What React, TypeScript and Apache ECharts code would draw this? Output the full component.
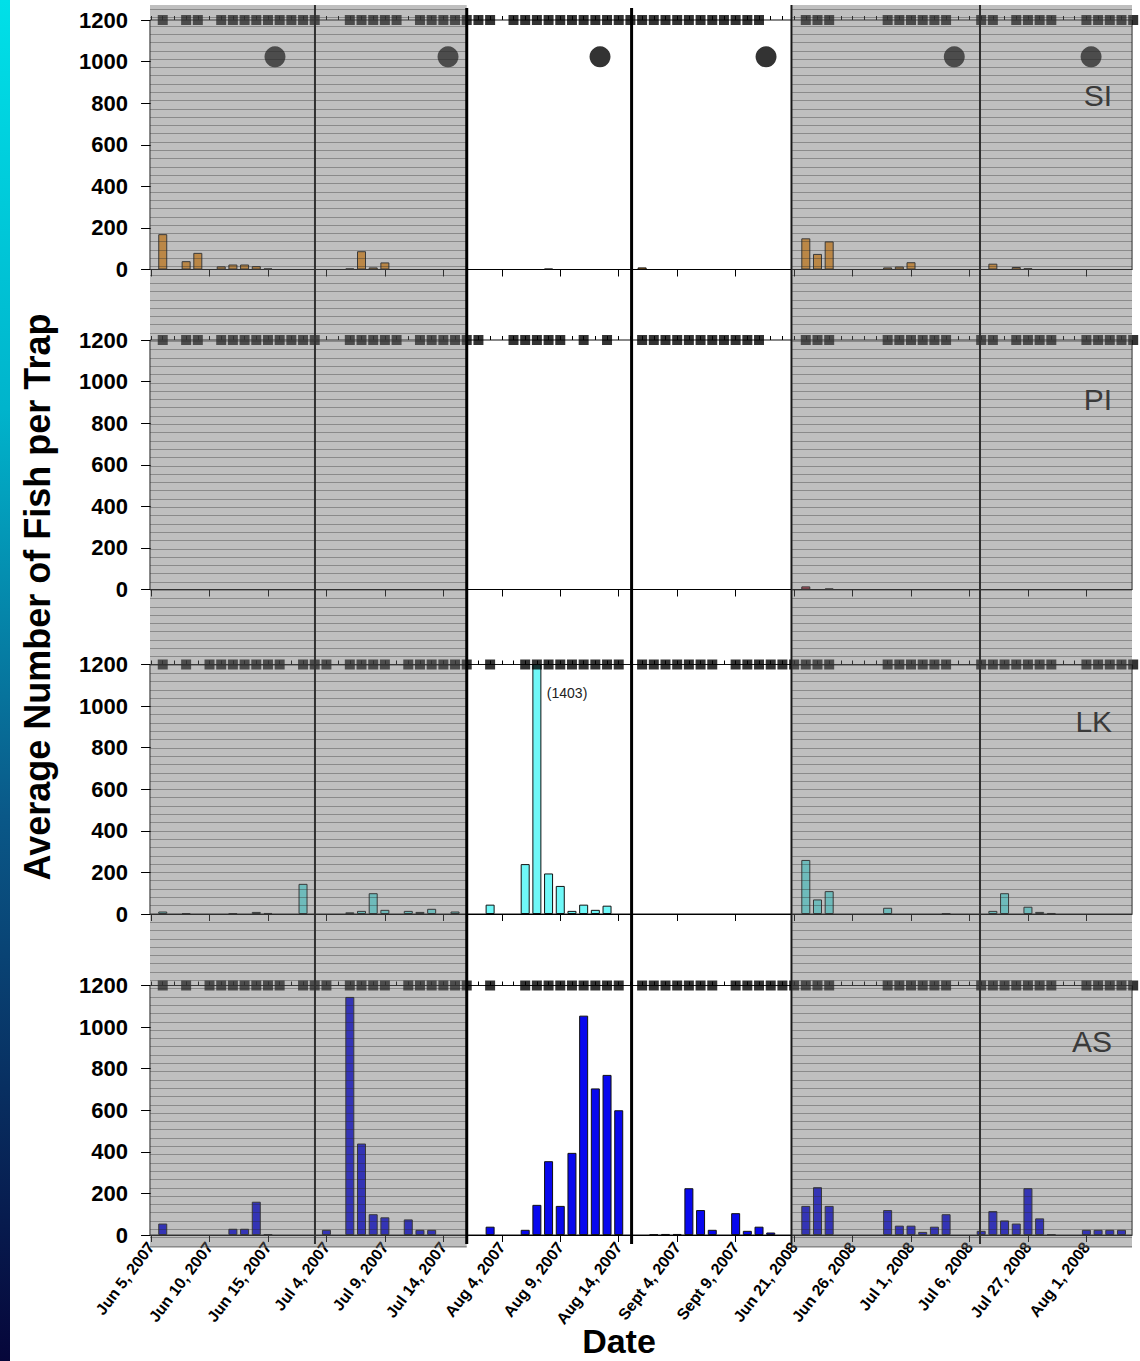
import React, { useEffect, useRef } from "react";
import * as echarts from "echarts";

const FONT = "'Liberation Sans', Arial, Helvetica, sans-serif";

// Day index on the broken date axis: 0 = Jun 5, 2007
const tickDays = [0, 5, 10, 15, 20, 25, 30, 35, 40, 45, 50, 55, 60, 65, 70, 75, 80];
const tickLabels = [
  "Jun 5, 2007", "Jun 10, 2007", "Jun 15, 2007", "Jul 4, 2007", "Jul 9, 2007", "Jul 14, 2007",
  "Aug 4, 2007", "Aug 9, 2007", "Aug 14, 2007", "Sept 4, 2007", "Sept 9, 2007",
  "Jun 21, 2008", "Jun 26, 2008", "Jul 1, 2008", "Jul 6, 2008", "Jul 27, 2008", "Aug 1, 2008",
];
const dayTicks = [
  0, 1, 2, 3, 4, 5, 6, 7, 8, 9, 10, 11, 12, 13, 14, 15, 16, 17, 18, 19, 20, 21, 22, 23, 24, 25, 26, 27,
  28, 29, 30, 31, 32, 33, 34, 35, 36, 37, 38, 39, 40, 41, 42, 43, 44, 45, 46, 47, 48, 49, 50, 51, 52, 53,
  54, 55, 56, 57, 58, 59, 60, 61, 62, 63, 64, 65, 66, 67, 68, 69, 70, 71, 72, 73, 74, 75, 76, 77, 78, 79,
  80, 81, 82, 83,
];
const axisMin = -0.09;
const axisMax = 83.9;
const shadedSegments = [[-0.09, 27.0], [54.78, 83.9]];
const lightBreaks = [14.02, 54.78, 70.9];
const heavyBreaks = [27.0, 41.1];

const panelNames = ["SI", "PI", "LK", "AS"];
const panelColors = ["#f89c28", "#e2344e", "#6ff8f8", "#0808ee"];
const panelLabelValue = [838, 916, 925, 929];

// SI
const siDays = [1, 3, 4, 6, 7, 8, 9, 10, 17, 18, 19, 20, 34, 42, 56, 57, 58, 63, 64, 65, 72, 74, 75];
const siValues = [170, 40, 80, 15, 24, 24, 16, 5, 5, 88, 10, 34, 4, 10, 150, 75, 135, 10, 14, 35, 28, 12, 6];
const siSampleDays = [
  1, 3, 4, 6, 7, 8, 9, 10, 11, 12, 13, 14, 17, 18, 19, 20, 21, 23, 24, 25, 26, 27, 28, 29,
  31, 32, 33, 34, 35, 36, 37, 38, 39, 40, 41, 42, 43, 44, 45, 46, 47, 48, 49, 50, 51, 52,
  56, 57, 58, 63, 64, 65, 66, 67, 68, 71, 72, 74, 75, 76, 77, 80, 81, 82, 83, 84,
];
const newMoonDays = [10.6, 25.4, 38.4, 52.6, 68.7, 80.4];
const newMoonLevel = 1023;

// PI
const piDays = [56, 58];
const piValues = [15, 5];
const piSampleDays = [
  1, 3, 4, 6, 7, 8, 9, 10, 11, 12, 13, 14, 17, 18, 19, 20, 21, 23, 24, 25, 26, 27, 28,
  31, 32, 33, 34, 35, 37, 39, 42, 43, 44, 45, 46, 47, 48, 49, 50, 51, 52,
  56, 57, 58, 63, 64, 65, 66, 67, 68, 71, 72, 74, 75, 76, 77, 80, 81, 82, 83, 84,
];

// LK
const lkDays = [1, 3, 7, 9, 10, 13, 17, 18, 19, 20, 22, 23, 24, 26, 29, 32, 33, 34, 35, 36, 37, 38, 39, 56, 57, 58, 63, 68, 72, 73, 75, 76, 77];
const lkValues = [12, 4, 3, 10, 5, 145, 8, 15, 100, 20, 15, 10, 25, 12, 45, 240, 1403, 195, 135, 15, 45, 20, 40, 260, 70, 110, 30, 3, 15, 100, 35, 10, 5];
const lkSampleDays = [
  1, 3, 5, 6, 7, 8, 9, 10, 11, 13, 14, 15, 17, 18, 19, 20, 22, 23, 24, 25, 26, 27, 29,
  32, 33, 34, 35, 36, 37, 38, 39, 40, 42, 43, 44, 45, 46, 47, 48, 50, 51, 52, 53, 54, 55,
  56, 57, 58, 63, 64, 65, 66, 67, 68, 71, 72, 73, 74, 75, 76, 77, 80, 81, 82, 83, 84,
];
const lkNoteDay = 33.85;
const lkNoteLevel = 1065;
const lkNote = "(1403)";

// AS
const asDays = [1, 7, 8, 9, 10, 15, 17, 18, 19, 20, 22, 23, 24, 29, 32, 33, 34, 35, 36, 37, 38, 39, 40, 43, 44, 45, 46, 47, 48, 50, 51, 52, 53, 56, 57, 58, 63, 64, 65, 66, 67, 68, 71, 72, 73, 74, 75, 76, 77, 80, 81, 82, 83];
const asValues = [55, 30, 30, 160, 3, 25, 1145, 440, 100, 85, 75, 25, 25, 40, 25, 145, 355, 140, 395, 1055, 705, 770, 600, 3, 5, 5, 225, 120, 25, 105, 20, 40, 12, 140, 230, 140, 120, 45, 45, 15, 40, 100, 20, 115, 70, 55, 225, 80, 3, 25, 25, 25, 25];
const asSampleDays = lkSampleDays;

const yTicks = { min: 0, max: 1200, interval: 200 };

const panelDays = [siDays, piDays, lkDays, asDays];
const panelValues = [siValues, piValues, lkValues, asValues];
const panelSamples = [siSampleDays, piSampleDays, lkSampleDays, asSampleDays];

export default function App() {
  const ref = useRef<HTMLDivElement>(null);
  useEffect(() => {
    document.body.style.margin = "0";
    const el = ref.current!;
    const chart = echarts.init(el, null, { renderer: "svg" });
    const gridTops = [20, 340, 664.5, 985.5];
    const gridH = 249.5;

    const grid = gridTops.map((t) => ({
      left: 150, right: 8, top: t, height: gridH, show: true,
      borderColor: "#111", borderWidth: 1, backgroundColor: "transparent",
    }));
    const xAxis: any[] = [];
    const yAxis: any[] = [];
    const series: any[] = [];
    panelNames.forEach((name, i) => {
      const isLast = i === panelNames.length - 1;
      xAxis.push({
        type: "value", gridIndex: i, min: axisMin, max: axisMax,
        axisLine: { show: true, lineStyle: { color: "#000", width: 1 } },
        axisTick: { show: true, customValues: tickDays, length: 7, lineStyle: { color: "#000" } },
        axisLabel: isLast
          ? {
              show: true, customValues: tickDays, rotate: 53, margin: 9,
              formatter: (v: number) => {
                const k = tickDays.indexOf(Math.round(v));
                return k >= 0 ? tickLabels[k] : "";
              },
              fontFamily: FONT, fontSize: 16, fontWeight: "bold", color: "#000",
            }
          : { show: false },
        splitLine: { show: false },
      });
      xAxis.push({
        type: "value", gridIndex: i, min: axisMin, max: axisMax,
        axisLine: { show: false },
        axisTick: { show: true, customValues: dayTicks, length: 4, lineStyle: { color: "#000" } },
        axisLabel: { show: false },
        splitLine: { show: false },
      });
      yAxis.push({
        type: "value", gridIndex: i, min: yTicks.min, max: yTicks.max, interval: yTicks.interval,
        axisLine: { show: false },
        axisTick: { show: true, length: 10, lineStyle: { color: "#000" } },
        axisLabel: {
          fontFamily: FONT, fontSize: 22, fontWeight: "bold", color: "#000", margin: 22,
          formatter: (v: number) => String(v),
        },
        splitLine: { show: false },
      });
      series.push({
        type: "bar", name, xAxisIndex: 2 * i, yAxisIndex: i, barWidth: 9, z: 3,
        data: panelDays[i].map((d, k) => [d, panelValues[i][k]]),
        itemStyle: { color: panelColors[i], borderColor: "#111", borderWidth: 1 },
      });
      series.push({
        type: "scatter", name: name + " sampled", xAxisIndex: 2 * i, yAxisIndex: i, z: 4,
        symbol: "rect", symbolSize: 10, clip: false,
        data: panelSamples[i].map((d) => [d, 1200]),
        itemStyle: { color: "#000" },
      });
      if (i === 0) {
        series.push({
          type: "scatter", name: "new moon", xAxisIndex: 0, yAxisIndex: 0, z: 4,
          symbol: "circle", symbolSize: 21, clip: false,
          data: newMoonDays.map((d) => [d, newMoonLevel]),
          itemStyle: { color: "#000" },
        });
      }
    });

    chart.setOption({ animation: false, grid, xAxis, yAxis, series });

    const px = (i: number, g: number, v: number) =>
      chart.convertToPixel({ xAxisIndex: 2 * i, yAxisIndex: i } as any, [g, v]) as number[];
    const topY = px(0, 0, 1200)[1] - 15;
    const botY = px(3, 0, 0)[1] + 13;
    const lineBot = px(3, 0, 0)[1] + 9;
    const graphic: any[] = [];
    graphic.push({
      type: "rect", z: 1, shape: { x: 0, y: 0, width: 10, height: 1361 },
      style: {
        fill: new echarts.graphic.LinearGradient(0, 0, 0, 1, [
          { offset: 0, color: "#00e0e8" },
          { offset: 0.3, color: "#00b4cc" },
          { offset: 0.6, color: "#0a5888" },
          { offset: 1, color: "#06063a" },
        ]),
      },
    });
    lightBreaks.forEach((g) => {
      const x = px(0, g, 0)[0];
      graphic.push({ type: "line", z: 50, shape: { x1: x, y1: topY, x2: x, y2: lineBot }, style: { stroke: "#000", lineWidth: 2 } });
    });
    shadedSegments.forEach(([a, b]) => {
      const x0 = px(0, a, 0)[0];
      const x1 = px(0, b, 0)[0];
      graphic.push({
        type: "rect", z: 100, shape: { x: x0, y: topY, width: x1 - x0, height: botY - topY },
        style: { fill: "rgba(110,110,110,0.44)" },
      });
      // hatch texture of the shaded periods
      for (let y = topY + 4; y < botY; y += 8.3) {
        graphic.push({
          type: "line", z: 101, silent: true,
          shape: { x1: x0, y1: Math.round(y) + 0.5, x2: x1, y2: Math.round(y) + 0.5 },
          style: { stroke: "rgba(40,40,40,0.35)", lineWidth: 1 },
        });
      }
    });
    heavyBreaks.forEach((g) => {
      const x = px(0, g, 0)[0];
      graphic.push({ type: "line", z: 120, shape: { x1: x, y1: topY + 3, x2: x, y2: lineBot }, style: { stroke: "#000", lineWidth: 3 } });
    });
    panelNames.forEach((name, i) => {
      const p = px(i, 82.2, panelLabelValue[i]);
      graphic.push({
        type: "text", z: 120, x: p[0], y: p[1],
        style: { text: name, font: `30px ${FONT}`, fill: "#3a3a3a", textAlign: "right", align: "right", textVerticalAlign: "middle", verticalAlign: "middle" },
      });
    });
    const n = px(2, lkNoteDay, lkNoteLevel);
    graphic.push({
      type: "text", z: 120, x: n[0], y: n[1],
      style: { text: lkNote, font: `14px ${FONT}`, fill: "#222", textAlign: "left", align: "left", textVerticalAlign: "middle", verticalAlign: "middle" },
    });
    graphic.push({
      type: "text", z: 120, x: 37, y: 597, rotation: Math.PI / 2,
      style: { text: "Average Number of Fish per Trap", font: `bold 36px ${FONT}`, fill: "#000", textAlign: "center", align: "center", textVerticalAlign: "middle", verticalAlign: "middle" },
    });
    graphic.push({
      type: "text", z: 120, x: 619, y: 1341,
      style: { text: "Date", font: `bold 34px ${FONT}`, fill: "#000", textAlign: "center", align: "center", textVerticalAlign: "middle", verticalAlign: "middle" },
    });
    chart.setOption({ graphic });

    return () => chart.dispose();
  }, []);
  return <div ref={ref} style={{ width: 1140, height: 1361, background: "#fff" }} />;
}
